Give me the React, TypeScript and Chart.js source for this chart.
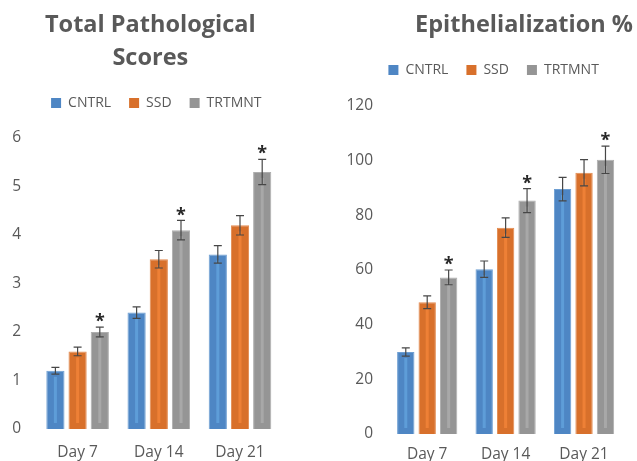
import React, { useEffect, useRef } from 'react';
import { Chart, registerables } from 'chart.js';

Chart.register(...registerables);

// ---------- data ----------
const categories = ['Day 7', 'Day 14', 'Day 21'];
const seriesNames = ['CNTRL', 'SSD', 'TRTMNT'];

const pathCntrl = [1.2, 2.4, 3.6];
const pathSsd = [1.6, 3.5, 4.2];
const pathTrt = [2.0, 4.1, 5.3];
const pathCntrlErr = [0.07, 0.12, 0.18];
const pathSsdErr = [0.09, 0.18, 0.2];
const pathTrtErr = [0.1, 0.2, 0.26];
const pathTicks = [0, 1, 2, 3, 4, 5, 6];

const epiCntrl = [30, 60.3, 89.6];
const epiSsd = [48.2, 75.5, 95.6];
const epiTrt = [57.3, 85.4, 100.3];
const epiCntrlErr = [1.5, 3.0, 4.3];
const epiSsdErr = [2.3, 3.6, 4.8];
const epiTrtErr = [2.7, 4.4, 5.0];
const epiTicks = [0, 20, 40, 60, 80, 100, 120];

const cntrlSignificant = [false, false, false];
const ssdSignificant = [false, false, false];
const trtSignificant = [true, true, true];

// ---------- styles ----------
const fills = ['#4E86C4', '#D8702B', '#959595'];
const stripes = ['#5E9DD8', '#EE8036', '#A8A8A8'];
const edges = ['#6E9FD3', '#E38B50', '#AEAEAE'];
const textGrey = '#595959';
const FONT = "'Open Sans', 'DejaVu Sans', sans-serif";

const shiftPlugin = {
  id: 'shiftBoxes',
  beforeLayout(chart: any, _a: any, opts: any) {
    const l: any = chart.legend;
    if (l && !l.__patched) {
      const orig = l.fit;
      l.fit = function () {
        orig.call(this);
        this.height = opts.legendHeight;
      };
      l.__patched = true;
    }
  },
  afterLayout(chart: any, _a: any, opts: any) {
    const t = chart.titleBlock;
    if (t) {
      t.left += opts.titleDx;
      t.right += opts.titleDx;
    }
    const l = chart.legend;
    if (l) {
      l.left += opts.legendDx;
      l.right += opts.legendDx;
    }
  },
};

const decorPlugin = {
  id: 'decor',
  afterDatasetsDraw(chart: any, _a: any, opts: any) {
    const ctx = chart.ctx;
    const yScale = chart.scales.y;
    ctx.save();
    chart.data.datasets.forEach((_ds: any, i: number) => {
      const meta = chart.getDatasetMeta(i);
      meta.data.forEach((bar: any) => {
        const { x, y, base } = bar.getProps(['x', 'y', 'base'], true);
        const h = base - y;
        if (h > 14) {
          ctx.fillStyle = stripes[i];
          ctx.fillRect(x - 1.5, y + 6, 3, h - 12);
        }
      });
    });
    chart.data.datasets.forEach((ds: any, i: number) => {
      const meta = chart.getDatasetMeta(i);
      const errs = opts.errors[i];
      const sig = opts.sig[i];
      meta.data.forEach((bar: any, j: number) => {
        const { x } = bar.getProps(['x'], true);
        const v = ds.data[j];
        const e = errs[j];
        const yt = yScale.getPixelForValue(v + e);
        const yb = yScale.getPixelForValue(v - e);
        ctx.strokeStyle = '#474747';
        ctx.lineWidth = 1.2;
        ctx.beginPath();
        ctx.moveTo(x, yt);
        ctx.lineTo(x, yb);
        ctx.moveTo(x - 4, yt);
        ctx.lineTo(x + 4, yt);
        ctx.moveTo(x - 4, yb);
        ctx.lineTo(x + 4, yb);
        ctx.stroke();
        if (sig[j]) {
          ctx.fillStyle = '#262626';
          ctx.font = `bold 18px ${FONT}`;
          ctx.textAlign = 'center';
          ctx.textBaseline = 'middle';
          ctx.fillText('*', x, yt - 5);
        }
      });
    });
    ctx.restore();
  },
};

type PanelProps = {
  title: string | string[];
  values: number[][];
  errors: number[][];
  sig: boolean[][];
  ticks: number[];
  box: { left: number; top: number; width: number; height: number };
  yAxisWidth: number;
  yTickPad: number;
  padRight: number;
  xAxisHeight: number;
  xTickPad: number;
  titlePadTop: number;
  titlePadBottom: number;
  legendHeight: number;
  titleDx: number;
  legendDx: number;
  cp: number;
  bp: number;
};

function Panel(p: PanelProps) {
  const ref = useRef<HTMLCanvasElement | null>(null);
  useEffect(() => {
    if (!ref.current) return;
    const chart = new Chart(ref.current, {
      type: 'bar',
      data: {
        labels: categories,
        datasets: p.values.map((vals, i) => ({
          label: seriesNames[i],
          data: vals,
          backgroundColor: fills[i],
          borderColor: edges[i],
          borderWidth: 1,
          categoryPercentage: p.cp,
          barPercentage: p.bp,
        })),
      },
      options: {
        responsive: false,
        maintainAspectRatio: false,
        animation: false,
        events: [],
        layout: { padding: { left: 0, right: p.padRight, top: 0, bottom: 0 } },
        scales: {
          x: {
            grid: { display: false, drawTicks: false },
            border: { display: false },
            ticks: { color: textGrey, font: { family: FONT, size: 15.5 }, padding: p.xTickPad },
            afterFit: (s: any) => {
              s.height = p.xAxisHeight;
            },
          },
          y: {
            min: p.ticks[0],
            max: p.ticks[p.ticks.length - 1],
            grid: { display: false, drawTicks: false },
            border: { display: false },
            ticks: {
              stepSize: p.ticks[1] - p.ticks[0],
              color: textGrey,
              font: { family: FONT, size: 15.5 },
              padding: p.yTickPad,
            },
            afterFit: (s: any) => {
              s.width = p.yAxisWidth;
            },
          },
        },
        plugins: {
          title: {
            display: true,
            text: p.title,
            color: textGrey,
            font: { family: FONT, size: 23.5, weight: 'bold', lineHeight: 1.4 },
            padding: { top: p.titlePadTop, bottom: p.titlePadBottom },
          },
          legend: {
            display: true,
            position: 'top',
            labels: {
              color: textGrey,
              font: { family: FONT, size: 14 },
              boxWidth: 10,
              boxHeight: 10,
              padding: 18,
              generateLabels: (ch: any) =>
                Chart.defaults.plugins.legend.labels.generateLabels(ch).map((it: any, k: number) => ({
                  ...it,
                  fillStyle: fills[k],
                  lineWidth: 0,
                  strokeStyle: fills[k],
                })),
            },
          },
          tooltip: { enabled: false },
          shiftBoxes: {
            titleDx: p.titleDx,
            legendDx: p.legendDx,
            legendHeight: p.legendHeight,
          },
          decor: { errors: p.errors, sig: p.sig },
        } as any,
      },
      plugins: [shiftPlugin, decorPlugin],
    } as any);
    return () => chart.destroy();
  }, []);
  return (
    <canvas
      ref={ref}
      width={p.box.width}
      height={p.box.height}
      style={{
        position: 'absolute',
        left: p.box.left,
        top: p.box.top,
        width: p.box.width,
        height: p.box.height,
      }}
    />
  );
}

export default function App() {
  return (
    <div
      style={{
        position: 'fixed',
        left: 0,
        top: 0,
        width: 637,
        height: 461,
        overflow: 'hidden',
        background: '#ffffff',
      }}
    >
      <Panel
        title={['Total Pathological', 'Scores']}
        values={[pathCntrl, pathSsd, pathTrt]}
        errors={[pathCntrlErr, pathSsdErr, pathTrtErr]}
        sig={[cntrlSignificant, ssdSignificant, trtSignificant]}
        ticks={pathTicks}
        box={{ left: 0, top: 0, width: 302, height: 461 }}
        yAxisWidth={37}
        yTickPad={16}
        padRight={21.4}
        xAxisHeight={32}
        xTickPad={14}
        titlePadTop={8.5}
        titlePadBottom={3.7}
        legendHeight={60}
        titleDx={10}
        legendDx={16}
        cp={0.82}
        bp={0.82}
      />
      <Panel
        title="Epithelialization %"
        values={[epiCntrl, epiSsd, epiTrt]}
        errors={[epiCntrlErr, epiSsdErr, epiTrtErr]}
        sig={[cntrlSignificant, ssdSignificant, trtSignificant]}
        ticks={epiTicks}
        box={{ left: 340, top: 0, width: 297, height: 461 }}
        yAxisWidth={48}
        yTickPad={15}
        padRight={13.75}
        xAxisHeight={27}
        xTickPad={11.5}
        titlePadTop={8.5}
        titlePadBottom={3.6}
        legendHeight={61}
        titleDx={42.4}
        legendDx={12}
        cp={0.82}
        bp={0.81}
      />
    </div>
  );
}
